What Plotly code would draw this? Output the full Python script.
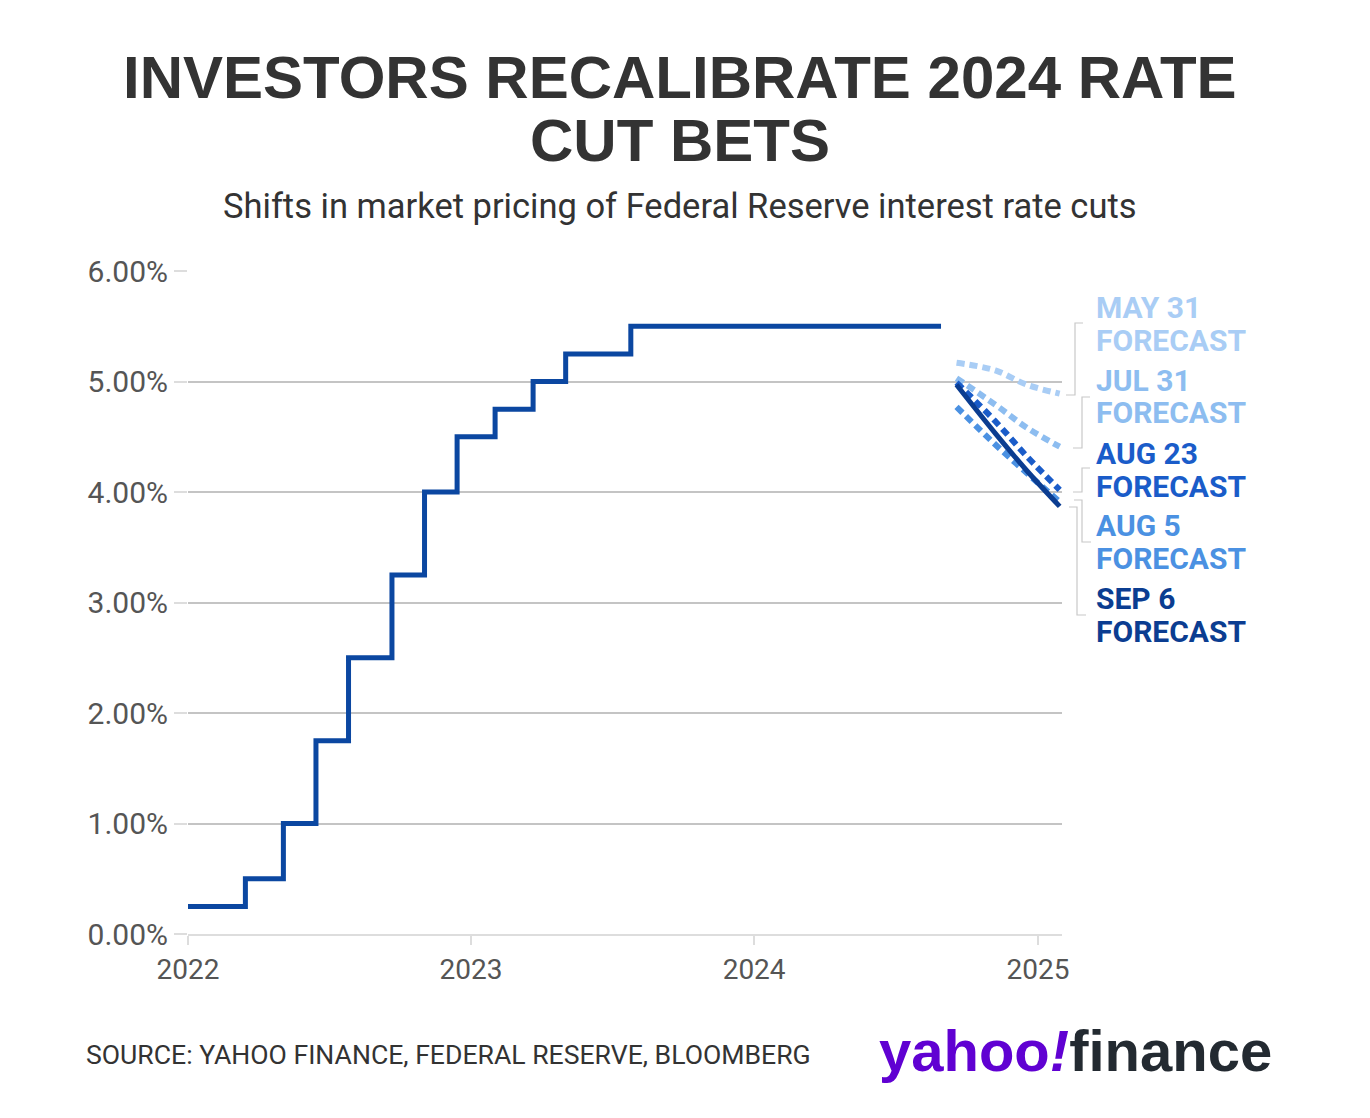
import plotly.graph_objects as go

# --- data -------------------------------------------------------------------
# Fed funds target, upper bound (%), step changes
hike_dates = [
    "2022-01-01", "2022-03-16", "2022-05-04", "2022-06-15", "2022-07-27",
    "2022-09-21", "2022-11-02", "2022-12-14", "2023-02-01", "2023-03-22",
    "2023-05-03", "2023-07-26", "2024-08-29",
]
upper_rate = [0.25, 0.50, 1.00, 1.75, 2.50, 3.25, 4.00, 4.50, 4.75, 5.00, 5.25, 5.50, 5.50]

# market-implied path at upcoming FOMC meetings
fc_dates = ["2024-09-18", "2024-11-07", "2024-12-18", "2025-01-29"]
may31 = [5.17, 5.10, 4.97, 4.89]
jul31 = [5.03, 4.79, 4.58, 4.41]
aug05 = [4.77, 4.43, 4.17, 3.91]
aug23 = [4.99, 4.64, 4.32, 4.02]
sep06 = [4.97, 4.53, 4.19, 3.87]

year_ticks = ["2022-01-01", "2023-01-01", "2024-01-01", "2025-01-01"]
year_labels = ["2022", "2023", "2024", "2025"]
rate_ticks = [0, 1, 2, 3, 4, 5, 6]

# --- styling ----------------------------------------------------------------
OFF = 8  # page body margin in the browser
W, H = 1370 - OFF, 1118 - OFF
L, R, T, B = 188 - OFF, 1370 - 1062, 271 - OFF, 1118 - 934
ink = "#333333"
grey = "#555555"
step_blue = "#0B47A1"

forecasts = [
    ("MAY 31", may31, "#A9CDF5", "dash"),
    ("JUL 31", jul31, "#8DBDF0", "dash"),
    ("AUG 5", aug05, "#4B91E2", "dash"),
    ("AUG 23", aug23, "#1A5CC9", "dash"),
    ("SEP 6", sep06, "#0B3D91", "solid"),
]


# helpers take positions measured on the 1370x1118 screenshot
def px_x(px):
    return (px - OFF - L) / (W - L - R)


def px_y(py):
    return (H - B - (py - OFF)) / (H - T - B)


fig = go.Figure()

fig.add_trace(go.Scatter(
    x=hike_dates, y=upper_rate, mode="lines",
    line=dict(color=step_blue, width=5, shape="hv"),
    hovertemplate="%{x|%b %d, %Y}<br>%{y:.2f}%<extra></extra>",
))

for name, vals, color, dash in forecasts:
    fig.add_trace(go.Scatter(
        x=fc_dates, y=vals, mode="lines", name=name,
        line=dict(color=color, width=6 if dash == "dash" else 5, shape="spline",
                  dash="8px,5px" if dash == "dash" else "solid"),
        hovertemplate=name + " forecast<br>%{x|%b %d, %Y}: %{y:.2f}%<extra></extra>",
    ))

annotations = []

# headline + subtitle
for txt, base in (("INVESTORS RECALIBRATE 2024 RATE", 103), ("CUT BETS", 166)):
    annotations.append(dict(text=f"<b>{txt}</b>", x=px_x(680), y=px_y(base + 10),
                            xanchor="center", yanchor="bottom",
                            font=dict(family="Liberation Sans, Arial", size=60, color=ink)))
annotations.append(dict(text="Shifts in market pricing of Federal Reserve interest rate cuts",
                        x=px_x(680), y=px_y(206), xanchor="center", yanchor="middle",
                        font=dict(family="Roboto", size=34.5, color=ink)))

# right-hand forecast labels
label_rows = {
    "MAY 31": (307, 340),
    "JUL 31": (380, 412),
    "AUG 23": (453, 486),
    "AUG 5": (525, 558),
    "SEP 6": (598, 631),
}
for name, vals, color, dash in forecasts:
    y1, y2 = label_rows[name]
    for txt, yy in ((name, y1), ("FORECAST", y2)):
        annotations.append(dict(text=f"<b>{txt}</b>", x=px_x(1094), y=px_y(yy), xanchor="left",
                                yanchor="middle", font=dict(family="Roboto", size=30, color=color)))

# footer
annotations.append(dict(text="SOURCE: YAHOO FINANCE, FEDERAL RESERVE, BLOOMBERG", x=px_x(84),
                        y=px_y(1054), xanchor="left", yanchor="middle",
                        font=dict(family="Roboto", size=26.6, color=ink)))
annotations.append(dict(
    text="<b><span style='color:#6001D2'>yahoo<i>!</i></span><span style='color:#232A31'>finance</span></b>",
    x=px_x(1274), y=px_y(1050), xanchor="right", yanchor="middle",
    font=dict(family="Liberation Sans, Arial", size=58)))

for a in annotations:
    a.update(xref="paper", yref="paper", showarrow=False)

# grey brackets tying each line end to its label: (x_vert, y_top, y_bot, top_tick_dir, bot_tick_dir)
brackets = [
    (1075, 323, 395, 1, -1),
    (1082, 397, 448, 1, -1),
    (1082, 468, 492, 1, -1),
    (1082, 500, 542, -1, 1),
    (1077, 507, 615, -1, 1),
]
shapes = []
for xv, yt, yb, dt, db in brackets:
    path = (f"M {px_x(xv + 8 * dt)},{px_y(yt)} L {px_x(xv)},{px_y(yt)} "
            f"L {px_x(xv)},{px_y(yb)} L {px_x(xv + 9 * db)},{px_y(yb)}")
    shapes.append(dict(type="path", path=path, xref="paper", yref="paper",
                       line=dict(color="#C8C8C8", width=1.2)))

fig.update_layout(
    width=W, height=H,
    margin=dict(l=L, r=R, t=T, b=B),
    plot_bgcolor="white", paper_bgcolor="white",
    showlegend=False,
    annotations=annotations,
    shapes=shapes,
    font=dict(family="Roboto", color=grey),
)
fig.update_xaxes(
    type="date", range=["2022-01-01", "2025-02-01"],
    tickvals=year_ticks, ticktext=year_labels,
    showgrid=False, showline=True, linecolor="#DDDDDD", linewidth=2,
    ticks="outside", ticklen=9, tickwidth=2, tickcolor="#DDDDDD",
    tickfont=dict(family="Roboto", size=28, color=grey),
)
fig.update_yaxes(
    range=[0, 6], tickvals=rate_ticks, ticktext=[f"{v:.2f}%" for v in rate_ticks],
    showgrid=True, gridcolor="#C4C4C4", gridwidth=2, zeroline=False,
    ticks="outside", ticklen=13, tickwidth=2, tickcolor="#DDDDDD",
    tickfont=dict(family="Roboto", size=30, color=grey),
)

fig.write_html("out.html")
